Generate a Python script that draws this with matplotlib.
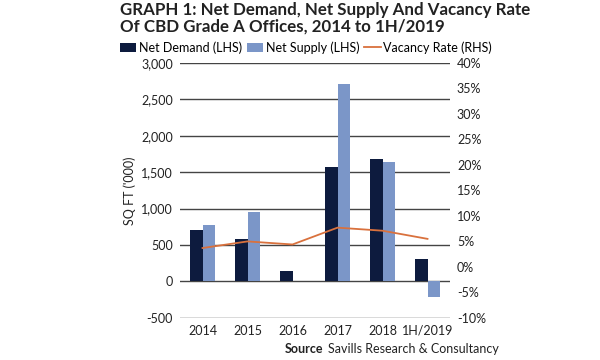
import numpy as np
import matplotlib.pyplot as plt
from matplotlib.ticker import FuncFormatter

years = ['2014', '2015', '2016', '2017', '2018', '1H/2019']
net_demand = [700, 590, 137, 1573, 1683, 311]
net_supply = [772, 950, 0, 2716, 1642, -210]
vacancy = [3.7, 5.0, 4.4, 7.7, 7.1, 5.5]

navy = '#0d1b3e'
lblue = '#7b96c8'
orange = '#d9713d'

plt.rcParams['font.family'] = ['Lato', 'DejaVu Sans']

fig = plt.figure(figsize=(6, 3.6), dpi=100)
ax = fig.add_axes([0.3, 0.117, 0.45, 0.708])
ax2 = ax.twinx()

x = np.arange(len(years))
w = 0.28
ax.bar(x - w/2, net_demand, w, color=navy, label='Net Demand (LHS)', zorder=3)
ax.bar(x + w/2, net_supply, w, color=lblue, label='Net Supply (LHS)', zorder=3)
ax2.plot(x, vacancy, color=orange, lw=1.3, label='Vacancy Rate (RHS)')

ax.set_ylim(-500, 3000)
ax.set_yticks(range(-500, 3001, 500))
ax.yaxis.set_major_formatter(FuncFormatter(lambda v, p: f'{int(v):,}'))
ax.grid(axis='y', color='#444444', lw=1, zorder=0)
ax.set_xlim(-0.5, 5.5)
ax.set_xticks(x)
ax.set_xticklabels(years)
ax.set_ylabel("SQ FT ('000)", fontsize=9, color='#222222', labelpad=4)

ax2.set_ylim(-10, 40)
ax2.set_yticks(range(-10, 41, 5))
ax2.yaxis.set_major_formatter(FuncFormatter(lambda v, p: f'{int(v)}%'))

for a in (ax, ax2):
    for s in a.spines.values():
        s.set_visible(False)
    a.tick_params(length=0, labelsize=9, colors='#222222', pad=5)

fig.text(0.2, 0.995, 'GRAPH 1: Net Demand, Net Supply And Vacancy Rate\nOf CBD Grade A Offices, 2014 to 1H/2019',
         fontsize=12.2, fontweight='bold', color='#222222', va='top', ha='left', linespacing=1.05)

h1, l1 = ax.get_legend_handles_labels()
h2, l2 = ax2.get_legend_handles_labels()
fig.legend(h1 + h2, l1 + l2, loc='center', bbox_to_anchor=(0.51, 0.868), ncol=3, frameon=False,
           fontsize=9, handlelength=1.3, handletextpad=0.2, columnspacing=0.4)

fig.text(0.475, 0.02, 'Source', fontsize=9, fontweight='bold', color='#222222', ha='left')
fig.text(0.547, 0.02, 'Savills Research & Consultancy', fontsize=9, color='#222222', ha='left')

fig.savefig('out.png', dpi=100)
